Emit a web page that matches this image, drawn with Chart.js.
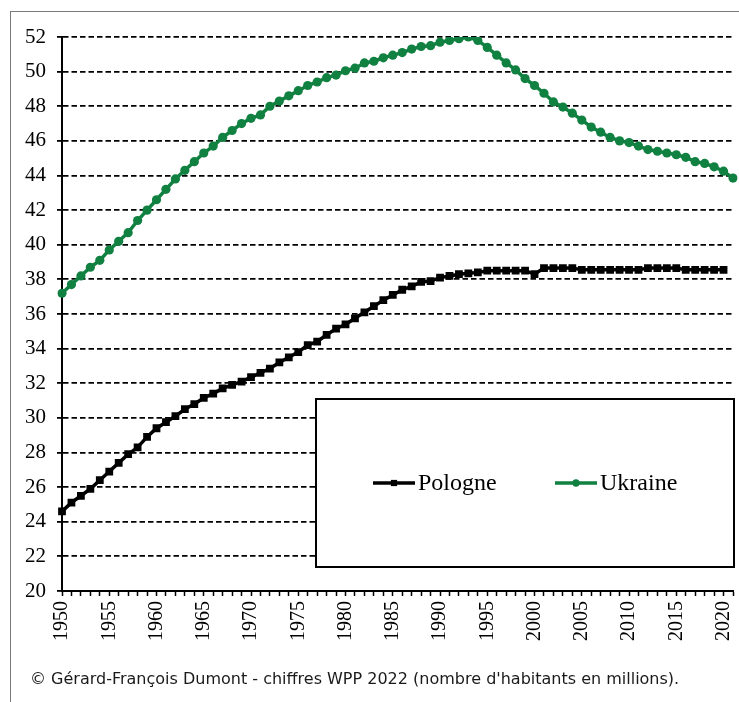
<!DOCTYPE html>
<html lang="fr">
<head>
<meta charset="utf-8">
<title>Pologne et Ukraine - population 1950-2021</title>
<script src="https://cdn.jsdelivr.net/npm/chart.js@4.4.1/dist/chart.umd.min.js"></script>
<style>
  html, body { margin: 0; padding: 0; background: #fff; }
  #wrap { position: relative; width: 739px; height: 702px; overflow: hidden; }
  #frame { position: absolute; left: 10px; top: 11px; width: 760px; height: 720px; border: 1px solid #7a7a7a; }
  #chart { position: absolute; left: 0; top: 0; }
  #source { position: absolute; left: 30px; top: 669px; font-family: "DejaVu Sans", sans-serif; font-size: 16px; color: #1a1a1a; white-space: nowrap; }
</style>
</head>
<body>
<div id="wrap">
  <div id="frame"></div>
  <canvas id="chart" width="739" height="702"></canvas>
  <div id="source">© Gérard-François Dumont - chiffres WPP 2022 (nombre d'habitants en millions).</div>
</div>
<script>
// Years on the category axis
const years = [
  '1950','1951','1952','1953','1954','1955','1956','1957','1958','1959',
  '1960','1961','1962','1963','1964','1965','1966','1967','1968','1969',
  '1970','1971','1972','1973','1974','1975','1976','1977','1978','1979',
  '1980','1981','1982','1983','1984','1985','1986','1987','1988','1989',
  '1990','1991','1992','1993','1994','1995','1996','1997','1998','1999',
  '2000','2001','2002','2003','2004','2005','2006','2007','2008','2009',
  '2010','2011','2012','2013','2014','2015','2016','2017','2018','2019',
  '2020','2021'
];

// Only these years get a printed label
const yearTicks = ['1950','1955','1960','1965','1970','1975','1980','1985','1990','1995','2000','2005','2010','2015','2020'];

// Population in millions
const pologne = [
  24.6, 25.1, 25.5, 25.9, 26.4, 26.9, 27.4, 27.9, 28.3, 28.9,
  29.4, 29.75, 30.1, 30.5, 30.8, 31.15, 31.4, 31.7, 31.9, 32.1,
  32.35, 32.6, 32.85, 33.2, 33.5, 33.8, 34.2, 34.4, 34.8, 35.15,
  35.4, 35.75, 36.1, 36.45, 36.8, 37.1, 37.4, 37.6, 37.85, 37.9,
  38.1, 38.2, 38.3, 38.35, 38.4, 38.5, 38.5, 38.5, 38.5, 38.5,
  38.3, 38.65, 38.65, 38.65, 38.65, 38.55, 38.55, 38.55, 38.55, 38.55,
  38.55, 38.55, 38.65, 38.65, 38.65, 38.65, 38.55, 38.55, 38.55, 38.55,
  38.55, null
];

const ukraine = [
  37.2, 37.7, 38.2, 38.7, 39.1, 39.7, 40.2, 40.7, 41.4, 42.0,
  42.6, 43.2, 43.8, 44.3, 44.8, 45.3, 45.7, 46.2, 46.6, 47.0,
  47.3, 47.5, 48.0, 48.3, 48.6, 48.9, 49.2, 49.4, 49.65, 49.8,
  50.05, 50.2, 50.5, 50.6, 50.8, 50.95, 51.1, 51.3, 51.45, 51.5,
  51.7, 51.8, 51.9, 52.0, 51.8, 51.4, 50.95, 50.5, 50.1, 49.6,
  49.2, 48.75, 48.25, 47.95, 47.6, 47.2, 46.8, 46.5, 46.2, 46.0,
  45.9, 45.7, 45.5, 45.4, 45.3, 45.2, 45.05, 44.8, 44.7, 44.5,
  44.25, 43.85
];

const yMin = 20;
const yMax = 52;
const yStep = 2;

const serif = '"Liberation Serif", "Times New Roman", serif';

// Boxed legend sitting inside the plot, like the spreadsheet original
const legendBox = {
  id: 'legendBox',
  afterDatasetsDraw(chart, args, opts) {
    const ctx = chart.ctx;
    ctx.save();
    ctx.fillStyle = '#fff';
    ctx.fillRect(opts.x, opts.y, opts.w, opts.h);
    ctx.lineWidth = 2;
    ctx.strokeStyle = '#000';
    ctx.strokeRect(opts.x, opts.y, opts.w, opts.h);

    const cy = opts.y + opts.h / 2;
    chart.data.datasets.forEach((ds, i) => {
      const x0 = opts.itemX[i];
      ctx.strokeStyle = ds.borderColor;
      ctx.lineWidth = ds.borderWidth;
      ctx.beginPath();
      ctx.moveTo(x0, cy);
      ctx.lineTo(x0 + opts.lineLen, cy);
      ctx.stroke();
      ctx.fillStyle = ds.pointBackgroundColor;
      Chart.helpers.drawPoint(ctx, {
        pointStyle: ds.pointStyle,
        radius: ds.pointRadius * 0.8,
        rotation: 0,
        borderWidth: 0
      }, x0 + opts.lineLen / 2, cy);
      ctx.fillStyle = '#000';
      ctx.font = '24px ' + serif;
      ctx.textBaseline = 'middle';
      ctx.textAlign = 'left';
      ctx.fillText(ds.label, x0 + opts.lineLen + 3, cy + 1);
    });
    ctx.restore();
  }
};

new Chart(document.getElementById('chart'), {
  type: 'line',
  data: {
    labels: years,
    datasets: [
      {
        label: 'Pologne',
        data: pologne,
        borderColor: '#000',
        backgroundColor: '#000',
        pointBackgroundColor: '#000',
        pointBorderWidth: 0,
        pointStyle: 'rect',
        pointRadius: 5.5,
        borderWidth: 3.5,
        tension: 0
      },
      {
        label: 'Ukraine',
        data: ukraine,
        borderColor: '#118141',
        backgroundColor: '#118141',
        pointBackgroundColor: '#118141',
        pointBorderWidth: 0,
        pointStyle: 'circle',
        pointRadius: 4.6,
        borderWidth: 3.5,
        tension: 0
      }
    ]
  },
  options: {
    responsive: false,
    animation: false,
    devicePixelRatio: 1,
    layout: { padding: { top: 37, right: 6, bottom: 0, left: 0 } },
    plugins: {
      legend: { display: false },
      tooltip: { enabled: false },
      legendBox: { x: 316, y: 399, w: 418, h: 168, itemX: [373, 555], lineLen: 42 }
    },
    scales: {
      x: {
        type: 'category',
        offset: false,
        grid: { drawOnChartArea: false, drawTicks: true, tickLength: 5, tickColor: '#000', tickWidth: 1.5 },
        border: { display: true, color: '#000', width: 2 },
        ticks: {
          autoSkip: false,
          maxRotation: 90,
          minRotation: 90,
          padding: 5,
          color: '#000',
          font: { family: serif, size: 20 },
          callback: function(value) {
            const l = this.getLabelForValue(value);
            return yearTicks.includes(l) ? l : '';
          }
        },
        afterFit: function(scale) {
          scale.height = 111;
          scale.paddingLeft = 0;
          scale.paddingRight = 0;
        }
      },
      y: {
        min: yMin,
        max: yMax,
        ticks: { stepSize: yStep, color: '#000', padding: 11, font: { family: serif, size: 21 } },
        grid: { color: '#000', lineWidth: 1.8, tickLength: 5, drawTicks: true },
        border: { display: true, color: '#000', width: 2, dash: [5.5, 3] },
        afterFit: function(scale) { scale.width = 62; }
      }
    }
  },
  plugins: [legendBox]
});
</script>
</body>
</html>
